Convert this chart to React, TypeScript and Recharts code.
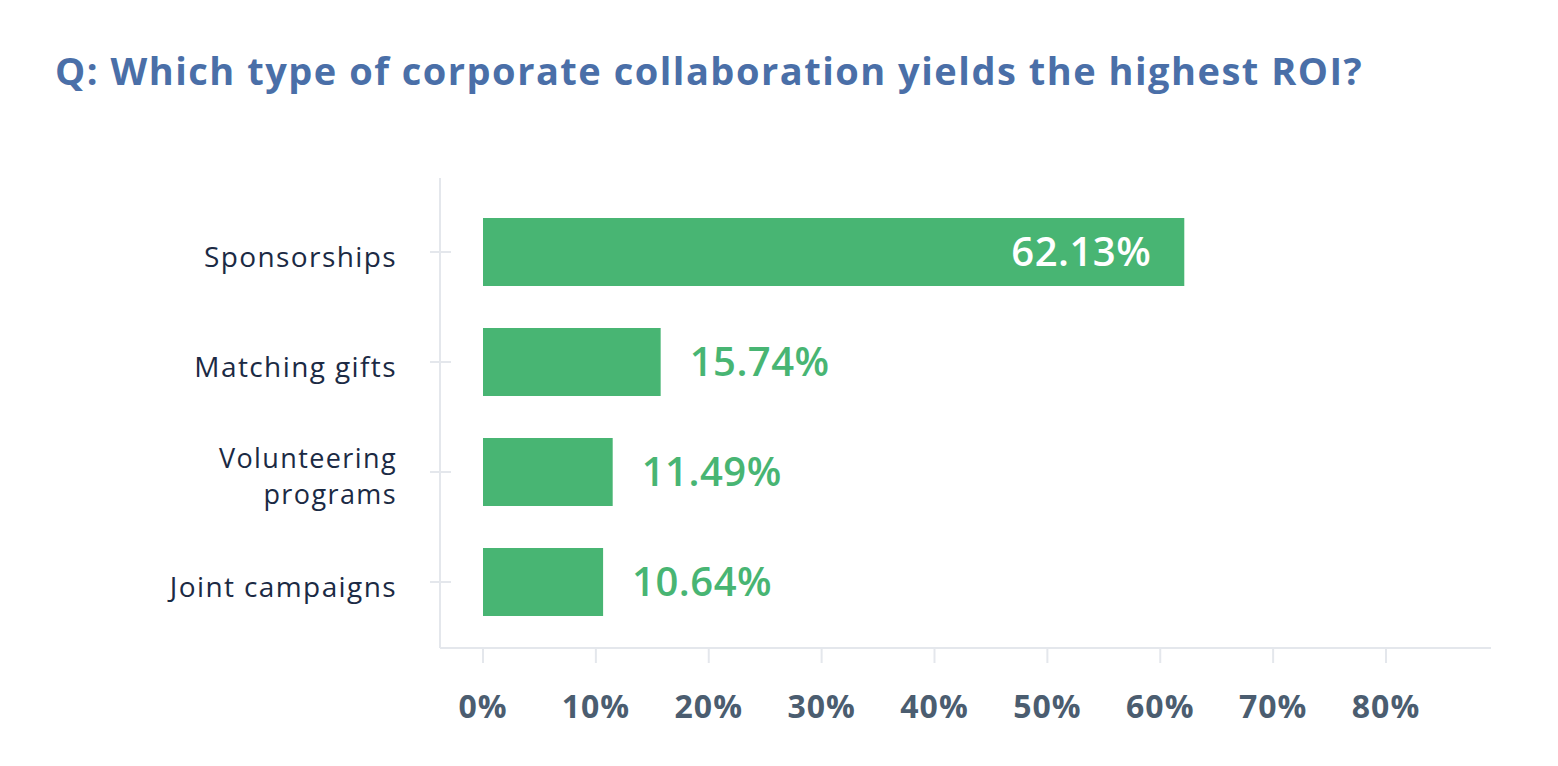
import React from 'react';
import { BarChart, Bar, XAxis, YAxis, LabelList } from 'recharts';

const categories = ['Sponsorships', 'Matching gifts', 'Volunteering programs', 'Joint campaigns'];
const shares = [62.13, 15.74, 11.49, 10.64];
const xTicks = [0, 10, 20, 30, 40, 50, 60, 70, 80];

const data = categories.map((name, i) => ({ name, value: shares[i] }));

const GREEN = '#48b573';
const AXIS = '#e4e7ec';
const FONT = '"Open Sans", sans-serif';

// greedy word wrap so long category names break over two lines
const wrap = (text: string, max = 15) => {
  const lines: string[] = [];
  let cur = '';
  text.split(' ').forEach((w) => {
    if (cur && (cur + ' ' + w).length > max) {
      lines.push(cur);
      cur = w;
    } else {
      cur = cur ? cur + ' ' + w : w;
    }
  });
  if (cur) lines.push(cur);
  return lines;
};

const CategoryTick = ({ x, y, payload }: any) => {
  const lines = wrap(String(payload.value));
  const multi = lines.length > 1;
  const lh = 36;
  const start = y - ((lines.length - 1) * lh) / 2 + 5;
  return (
    <g>
      <line x1={x - 10} x2={x + 11} y1={y} y2={y} stroke={AXIS} strokeWidth={2} />
      {lines.map((l, i) => (
        <text
          key={i}
          x={x - 43}
          y={start + i * lh}
          dy="0.35em"
          textAnchor="end"
          fontFamily={FONT}
          fontSize={multi ? 27 : 28}
          letterSpacing={1.4}
          fill="#1b2a44"
        >
          {l}
        </text>
      ))}
    </g>
  );
};

const ValueLabel = ({ x, y, width, height, value }: any) => {
  const inside = value > 50;
  return (
    <text
      x={inside ? x + width - 33 : x + width + 29}
      y={y + height / 2}
      dy="0.35em"
      textAnchor={inside ? 'end' : 'start'}
      fontFamily={FONT}
      fontWeight={600}
      fontSize={40}
      letterSpacing={0.5}
      fill={inside ? '#ffffff' : GREEN}
    >
      {`${value.toFixed(2)}%`}
    </text>
  );
};

const App = () => {
  return (
    <div style={{ position: 'absolute', left: 0, top: 0, width: 1558, height: 766, background: '#fff' }}>
      <div
        style={{
          position: 'absolute',
          left: 55,
          top: 44,
          fontFamily: FONT,
          fontWeight: 700,
          fontSize: 38,
          letterSpacing: 1.5,
          color: '#4a6fa8',
          whiteSpace: 'nowrap',
        }}
      >
        Q: Which type of corporate collaboration yields the highest ROI?
      </div>
      <BarChart
        width={1558}
        height={766}
        data={data}
        layout="vertical"
        margin={{ top: 178, right: 67, bottom: 58, left: 140 }}
      >
        <XAxis
          type="number"
          domain={[0, 80]}
          ticks={xTicks}
          tickFormatter={(v) => `${v}%`}
          padding={{ left: 43, right: 105 }}
          height={60}
          stroke={AXIS}
          strokeWidth={2}
          tickSize={15}
          tickMargin={32}
          tick={{ fontFamily: FONT, fontWeight: 700, fontSize: 32, letterSpacing: 1, fill: '#4b5d70' }}
        />
        <YAxis
          type="category"
          dataKey="name"
          width={300}
          stroke={AXIS}
          strokeWidth={2}
          tickSize={0}
          tickMargin={0}
          padding={{ top: 19, bottom: 11 }}
          tick={<CategoryTick />}
        />
        <Bar dataKey="value" fill={GREEN} barSize={68} isAnimationActive={false}>
          <LabelList dataKey="value" content={<ValueLabel />} />
        </Bar>
      </BarChart>
    </div>
  );
};

export default App;
